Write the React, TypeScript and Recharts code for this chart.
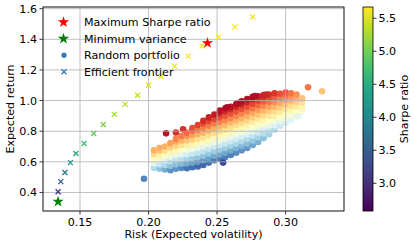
import React from "react";
import { ScatterChart, Scatter, XAxis, YAxis, CartesianGrid } from "recharts";

const W = 415;
const H = 247;
const plot = { left: 43, top: 7, right: 344, bottom: 211 };
const FONT = "DejaVu Sans";
const FS = 11.1;

const riskDomain = [0.123, 0.3426];
const returnDomain = [0.279, 1.611];
const riskTicks = [0.15, 0.2, 0.25, 0.3];
const returnTicks = [0.4, 0.6, 0.8, 1.0, 1.2, 1.4, 1.6];

const sharpeTicks = [3.0, 3.5, 4.0, 4.5, 5.0, 5.5];
const sharpeRange = [2.58, 5.67];
const cloudSharpeRange = [2.3, 3.75];

// efficient frontier
const frontierRisk = [0.134, 0.136, 0.139, 0.143, 0.147, 0.153, 0.16, 0.167, 0.175, 0.183, 0.192, 0.2, 0.209, 0.219, 0.229, 0.239, 0.251, 0.263, 0.276];
const frontierReturn = [0.405, 0.471, 0.53, 0.595, 0.654, 0.72, 0.785, 0.844, 0.91, 0.975, 1.035, 1.1, 1.159, 1.225, 1.29, 1.356, 1.415, 1.481, 1.546];

const maxSharpe = { risk: 0.243, ret: 1.376 };
const minVariance = { risk: 0.134, ret: 0.34 };

// random portfolios, read column by column
const cloudRisk = [0.204, 0.208, 0.212, 0.216, 0.22, 0.224, 0.228, 0.232, 0.236, 0.24, 0.244, 0.248, 0.252, 0.256, 0.26, 0.264, 0.268, 0.272, 0.276, 0.28, 0.284, 0.288, 0.292, 0.296, 0.3, 0.304, 0.308, 0.312];
const cloudReturns = [
  [0.56, 0.59, 0.62, 0.65, 0.675],
  [0.555, 0.585, 0.615, 0.645, 0.672, 0.69],
  [0.55, 0.58, 0.61, 0.64, 0.67, 0.7],
  [0.545, 0.575, 0.605, 0.635, 0.665, 0.695, 0.722],
  [0.555, 0.585, 0.615, 0.645, 0.675, 0.705, 0.733, 0.75],
  [0.56, 0.59, 0.62, 0.65, 0.68, 0.71, 0.74, 0.768],
  [0.558, 0.59, 0.62, 0.65, 0.68, 0.71, 0.74, 0.77, 0.79],
  [0.565, 0.595, 0.625, 0.655, 0.685, 0.715, 0.745, 0.775, 0.803, 0.82],
  [0.57, 0.6, 0.63, 0.66, 0.69, 0.72, 0.75, 0.78, 0.81, 0.84],
  [0.58, 0.61, 0.64, 0.67, 0.7, 0.73, 0.76, 0.79, 0.82, 0.85, 0.868],
  [0.595, 0.625, 0.655, 0.685, 0.715, 0.745, 0.775, 0.805, 0.835, 0.865, 0.89],
  [0.61, 0.64, 0.67, 0.7, 0.73, 0.76, 0.79, 0.82, 0.85, 0.88, 0.908],
  [0.62, 0.65, 0.68, 0.71, 0.74, 0.77, 0.8, 0.83, 0.86, 0.89, 0.918, 0.935],
  [0.632, 0.66, 0.69, 0.72, 0.75, 0.78, 0.81, 0.84, 0.87, 0.9, 0.93, 0.95],
  [0.645, 0.675, 0.705, 0.735, 0.765, 0.795, 0.825, 0.855, 0.885, 0.915, 0.943, 0.96],
  [0.66, 0.69, 0.72, 0.75, 0.78, 0.81, 0.84, 0.87, 0.9, 0.93, 0.96, 0.978],
  [0.675, 0.705, 0.735, 0.765, 0.795, 0.825, 0.855, 0.885, 0.915, 0.945, 0.975, 0.995],
  [0.69, 0.72, 0.75, 0.78, 0.81, 0.84, 0.87, 0.9, 0.93, 0.96, 0.99, 1.01],
  [0.71, 0.74, 0.77, 0.8, 0.83, 0.86, 0.89, 0.92, 0.95, 0.98, 1.008, 1.024],
  [0.73, 0.76, 0.79, 0.82, 0.85, 0.88, 0.91, 0.94, 0.97, 1.0, 1.028],
  [0.755, 0.785, 0.815, 0.845, 0.875, 0.905, 0.935, 0.965, 0.995, 1.022, 1.036],
  [0.78, 0.81, 0.84, 0.87, 0.9, 0.93, 0.96, 0.99, 1.02, 1.04],
  [0.81, 0.84, 0.87, 0.9, 0.93, 0.96, 0.99, 1.02, 1.048],
  [0.835, 0.865, 0.895, 0.925, 0.955, 0.985, 1.015, 1.045],
  [0.855, 0.885, 0.915, 0.945, 0.975, 1.005, 1.033, 1.052],
  [0.875, 0.905, 0.935, 0.965, 0.995, 1.025, 1.048],
  [0.9, 0.93, 0.96, 0.99, 1.018, 1.04],
  [0.93, 0.958, 0.985, 1.015],
];
const cloudStrays = [
  [0.1967, 0.49], [0.2128, 0.786], [0.22, 0.792], [0.2252, 0.812], [0.2544, 0.595],
  [0.2573, 0.956], [0.2653, 0.984], [0.2777, 1.03], [0.2858, 1.04], [0.3091, 0.897],
  [0.3164, 1.087], [0.3266, 1.061],
];

const viridis = ["#440154", "#482475", "#414487", "#355f8d", "#2a788e", "#21918c", "#22a884", "#44bf70", "#7ad151", "#bddf26", "#fde725"];
const rdYlBuR = ["#313695", "#4575b4", "#74add1", "#abd9e9", "#e0f3f8", "#ffffbf", "#fee090", "#fdae61", "#f46d43", "#d73027", "#a50026"];

function ramp(stops: string[], value: number, range: number[]) {
  let t = (value - range[0]) / (range[1] - range[0]);
  t = Math.max(0, Math.min(1, t));
  const p = t * (stops.length - 1);
  const i = Math.min(Math.floor(p), stops.length - 2);
  const f = p - i;
  const a = parseInt(stops[i].slice(1), 16);
  const b = parseInt(stops[i + 1].slice(1), 16);
  const ch = (s: number) => Math.round(((a >> s) & 255) * (1 - f) + ((b >> s) & 255) * f);
  return `rgb(${ch(16)},${ch(8)},${ch(0)})`;
}

const cloudData: any[] = [];
cloudRisk.forEach((risk, i) => {
  cloudReturns[i].forEach((ret) => cloudData.push({ risk, ret }));
});
cloudStrays.forEach(([risk, ret]) => cloudData.push({ risk, ret }));
cloudData.forEach((d) => (d.fill = ramp(rdYlBuR, d.ret / d.risk, cloudSharpeRange)));

const frontierData = frontierRisk.map((risk, i) => ({
  risk,
  ret: frontierReturn[i],
  fill: ramp(viridis, frontierReturn[i] / risk, sharpeRange),
}));

function starPath(cx: number, cy: number, R: number) {
  const r = R * 0.382;
  let d = "";
  for (let k = 0; k < 10; k++) {
    const a = (-90 + k * 36) * (Math.PI / 180);
    const rad = k % 2 === 0 ? R : r;
    d += (k === 0 ? "M" : "L") + (cx + rad * Math.cos(a)).toFixed(2) + "," + (cy + rad * Math.sin(a)).toFixed(2);
  }
  return d + "Z";
}

const Dot = (p: any) => <circle cx={p.cx} cy={p.cy} r={3.3} fill={p.payload.fill} />;

const Cross = (p: any) => {
  const s = 2.5;
  const { cx, cy } = p;
  return (
    <path
      d={`M${cx - s},${cy - s}L${cx + s},${cy + s}M${cx - s},${cy + s}L${cx + s},${cy - s}`}
      stroke={p.payload.fill}
      strokeWidth={1.3}
      fill="none"
    />
  );
};

const Star = (color: string) => (p: any) => <path d={starPath(p.cx, p.cy, 6)} fill={color} />;

const legendItems = [
  { label: "Maximum Sharpe ratio", kind: "star", color: "#ff0000" },
  { label: "Minimum variance", kind: "star", color: "#008000" },
  { label: "Random portfolio", kind: "dot", color: "#2e7ebc" },
  { label: "Efficient frontier", kind: "cross", color: "#3579b8" },
];

export default function App() {
  const cbX = 363;
  const cbW = 10;
  const midY = (plot.top + plot.bottom) / 2;
  const cbY = (v: number) =>
    plot.top + ((sharpeRange[1] - v) / (sharpeRange[1] - sharpeRange[0])) * (plot.bottom - plot.top);

  return (
    <div style={{ position: "fixed", left: 0, top: 0, width: W, height: H, background: "#fff" }}>
      <ScatterChart width={W} height={H} margin={{ top: plot.top, right: W - plot.right, bottom: 0, left: 0 }}>
        <XAxis
          type="number"
          dataKey="risk"
          domain={riskDomain}
          allowDataOverflow
          ticks={riskTicks}
          tickFormatter={(v: number) => v.toFixed(2)}
          height={H - plot.bottom}
          axisLine={false}
          tickLine={{ stroke: "#000", strokeWidth: 0.8 }}
          tickSize={3.5}
          tickMargin={3.3}
          tick={{ fill: "#000", fontSize: FS, fontFamily: FONT }}
          label={{ value: "Risk (Expected volatility)", position: "insideBottom", offset: 9, fill: "#000", fontSize: FS, fontFamily: FONT }}
        />
        <YAxis
          type="number"
          dataKey="ret"
          domain={returnDomain}
          allowDataOverflow
          ticks={returnTicks}
          tickFormatter={(v: number) => v.toFixed(1)}
          width={plot.left}
          axisLine={false}
          tickLine={{ stroke: "#000", strokeWidth: 0.8 }}
          tickSize={3.5}
          tickMargin={2.5}
          tick={{ fill: "#000", fontSize: FS, fontFamily: FONT }}
        />
        <Scatter data={cloudData} shape={Dot} isAnimationActive={false} zIndex={600} />
        <CartesianGrid stroke="#b0b0b0" strokeWidth={0.8} zIndex={650} />
        <Scatter data={frontierData} shape={Cross} isAnimationActive={false} zIndex={700} />
        <Scatter data={[minVariance]} shape={Star("#008000")} isAnimationActive={false} zIndex={710} />
        <Scatter data={[maxSharpe]} shape={Star("#ff0000")} isAnimationActive={false} zIndex={710} />
      </ScatterChart>

      <svg width={W} height={H} style={{ position: "absolute", left: 0, top: 0, pointerEvents: "none" }} fontFamily={FONT}>
        <defs>
          <linearGradient id="cb" x1="0" y1="1" x2="0" y2="0">
            {viridis.map((c, i) => (
              <stop key={i} offset={i / (viridis.length - 1)} stopColor={c} />
            ))}
          </linearGradient>
        </defs>
        <rect x={plot.left} y={plot.top} width={plot.right - plot.left} height={plot.bottom - plot.top} fill="none" stroke="#000" strokeWidth={0.8} />
        <text x={13.8} y={midY} transform={`rotate(-90 13.8 ${midY})`} textAnchor="middle" fontSize={FS} fill="#000">
          Expected return
        </text>

        {legendItems.map((it, i) => {
          const cy = 22.2 + i * 16.5;
          return (
            <g key={it.label}>
              {it.kind === "star" && <path d={starPath(63.5, cy, 6)} fill={it.color} />}
              {it.kind === "dot" && <circle cx={64} cy={cy} r={2.6} fill={it.color} />}
              {it.kind === "cross" && (
                <path d={`M61.5,${cy - 2.5}L66.5,${cy + 2.5}M61.5,${cy + 2.5}L66.5,${cy - 2.5}`} stroke={it.color} strokeWidth={1.3} />
              )}
              <text x={84} y={cy + 4} fontSize={FS} fill="#000">
                {it.label}
              </text>
            </g>
          );
        })}

        <rect x={cbX} y={plot.top} width={cbW} height={plot.bottom - plot.top} fill="url(#cb)" stroke="#000" strokeWidth={0.8} />
        {sharpeTicks.map((v) => (
          <g key={v}>
            <line x1={cbX + cbW} x2={cbX + cbW + 3.5} y1={cbY(v)} y2={cbY(v)} stroke="#000" strokeWidth={0.8} />
            <text x={cbX + cbW + 5.5} y={cbY(v) + 4} fontSize={FS} fill="#000">
              {v.toFixed(1)}
            </text>
          </g>
        ))}
        <text x={407.5} y={midY} transform={`rotate(-90 407.5 ${midY})`} textAnchor="middle" fontSize={FS} fill="#000">
          Sharpe ratio
        </text>
      </svg>
    </div>
  );
}
